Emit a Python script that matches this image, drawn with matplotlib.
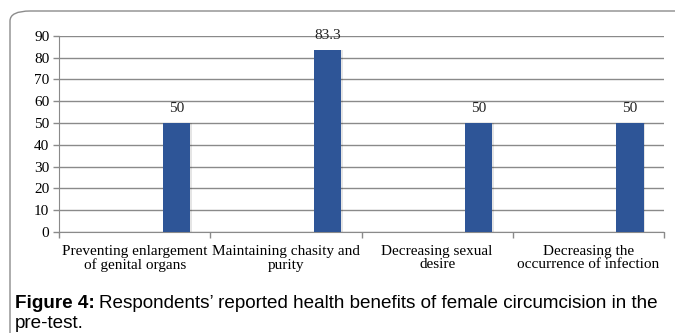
import numpy as np
import matplotlib
matplotlib.use('Agg')
import matplotlib.pyplot as plt
from matplotlib.patches import FancyBboxPatch

categories = ['Preventing enlargement\nof genital organs',
              'Maintaining chasity and\npurity',
              'Decreasing sexual\ndesire',
              'Decreasing the\noccurrence of infection']
values = [50, 83.3, 50, 50]
value_labels = ['50', '83.3', '50', '50']
yticks = [0, 10, 20, 30, 40, 50, 60, 70, 80, 90]

W, H = 675, 333
fig = plt.figure(figsize=(W / 100, H / 100), dpi=100)

# rounded frame around figure (right/bottom run off the image)
frame = FancyBboxPatch((10 / W, -20 / H), 700 / W, (H - 11 + 20) / H,
                       boxstyle='round,pad=0,rounding_size=0.03',
                       transform=fig.transFigure, fill=False,
                       edgecolor='#8c8c8c', linewidth=1.0)
fig.patches.append(frame)

ax = fig.add_axes([59 / W, 101 / H, (664 - 59) / W, (297.3 - 101) / H])
serif = 'Liberation Serif'
grid_c = '#8a8a8a'
bar_c = '#2E5597'
fs = 11

x = np.arange(len(categories))
offset, width = 0.275, 0.18
# faint shadow, then the bars
ax.bar(x + offset + 0.012, values, width, color='#000000', alpha=0.10, zorder=2)
bars = ax.bar(x + offset, values, width, color=bar_c, zorder=3)
for xi, v, lab in zip(x, values, value_labels):
    ax.text(xi + offset, v + 3.8, lab, ha='center', va='bottom',
            fontsize=fs, family=serif, color='#222222', zorder=4)

ax.set_xlim(-0.5, 3.5)
ax.set_ylim(0, 90)
ax.set_yticks(yticks)
ax.set_yticklabels([str(t) for t in yticks], family=serif, fontsize=fs)
ax.yaxis.grid(True, color=grid_c, linewidth=1.0, zorder=0)
ax.set_axisbelow(True)

ax.set_xticks(x)
ax.set_xticklabels(categories, family=serif, fontsize=fs, linespacing=1.1)
ax.set_xticks(np.arange(-0.5, 4, 1), minor=True)
ax.tick_params(axis='x', which='major', length=0, pad=9)
ax.tick_params(axis='x', which='minor', length=4, color=grid_c, width=1)
ax.tick_params(axis='y', length=4, color=grid_c, width=1, pad=3)

for s in ['top', 'right']:
    ax.spines[s].set_visible(False)
ax.spines['left'].set_color(grid_c)
ax.spines['bottom'].set_color(grid_c)

cfs = 13.6
t1 = fig.text(15 / W, 1 - 304 / H, 'Figure 4:', family='Liberation Sans',
              fontweight='bold', fontsize=cfs, va='center', ha='left')
fig.canvas.draw()
r = t1.get_window_extent()
fig.text((r.x1 + 4) / W, 1 - 304 / H,
         'Respondents\u2019 reported health benefits of female circumcision in the',
         family='Liberation Sans', fontsize=cfs, va='center', ha='left')
fig.text(15 / W, 1 - 323 / H, 'pre-test.', family='Liberation Sans',
         fontsize=cfs, va='center', ha='left')

fig.savefig('out.png', dpi=100)
